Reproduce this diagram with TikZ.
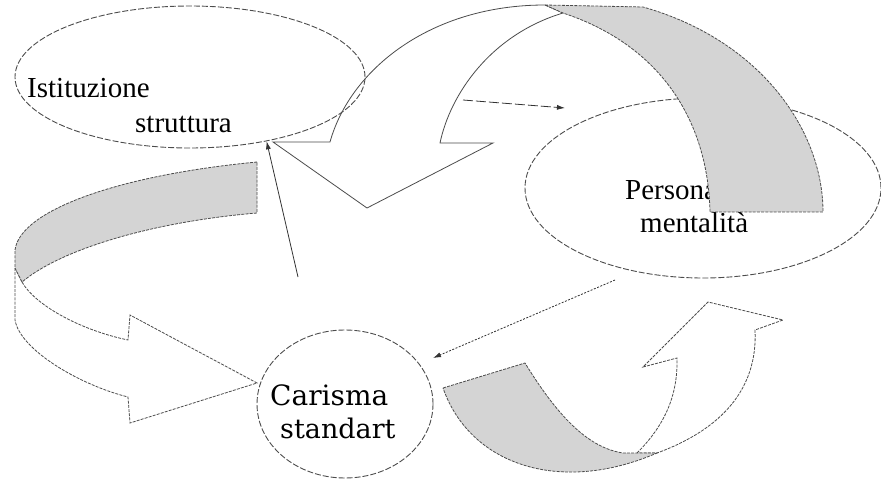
\documentclass[tikz,border=0pt]{standalone}
\usepackage{fontspec}
\setmainfont{Liberation Serif}
\newfontfamily\slabfont{DejaVu Serif}
\usetikzlibrary{shapes.geometric,arrows.meta}
\tikzstyle{oval} = [ellipse, draw=black!70, line width=0.9pt, dash pattern=on 6pt off 2pt, inner sep=0pt]
\tikzstyle{word} = [anchor=base west, inner sep=0pt, font=\fontsize{29}{30}\selectfont]
\tikzstyle{face} = [fill=white, draw=black!70, line width=0.8pt]
\tikzstyle{band} = [fill=black!17, draw=black!70, line width=0.8pt, dash pattern=on 3pt off 1.2pt]
\tikzstyle{link} = [draw=black!80, line width=0.8pt, -{Latex[length=8pt,width=5pt]}]

\begin{document}
\begin{tikzpicture}[x=1pt, y=-1pt]
\useasboundingbox (0,0) rectangle (881,481);

% Personalita
\node[oval, minimum width=356pt, minimum height=180pt] (pers) at (703,188) {};
\node[word] (persA) at (625,200) {Personalità};
\node[word] (persB) at (640,233) {mentalità};

% left arrow
\draw[face, dash pattern=on 3pt off 1.2pt] (15,268) -- (15,320) .. controls (20,350) and (80,385) .. (128,397)
  -- (130,423) -- (257,383) -- (130,315) -- (128,340)
  .. controls (80,330) and (35,305) .. (22,282) -- cycle;
\draw[band] (257,162) .. controls (120,175) and (20,210) .. (15,250) -- (15,268) -- (22,282)
  .. controls (60,250) and (150,222) .. (257,213) -- cycle;

% top arrow
\draw[face] (545,5) .. controls (430,5) and (350,70) .. (330,142)
  -- (273,142) -- (367,208) -- (493,143) -- (440,143)
  .. controls (450,95) and (490,35) .. (563,13) -- cycle;
\draw[band] (545,5) -- (643,7) .. controls (760,40) and (823,130) .. (823,212)
  -- (710,212) .. controls (708,120) and (660,45) .. (563,13) -- cycle;

% bottom right arrow
\draw[face, dash pattern=on 3pt off 1.2pt] (637,453) .. controls (665,425) and (678,395) .. (677,358)
  -- (643,367) -- (708,302) -- (783,320) -- (755,330)
  .. controls (758,390) and (720,430) .. (657,453) -- cycle;
\draw[band] (443,388) -- (525,363) .. controls (560,420) and (590,448) .. (623,453)
  -- (657,453) .. controls (560,495) and (470,465) .. (443,388) -- cycle;

% Istituzione
\node[oval, minimum width=350pt, minimum height=142pt] (ist) at (190,77) {};
\node[word] (istA) at (27,98) {Istituzione};
\node[word] (istB) at (135,133) {struttura};

% Carisma
\node[oval, minimum width=176pt, minimum height=148pt] (car) at (345,404) {};
\node[word, font=\slabfont\fontsize{28}{30}\selectfont] (carA) at (270,405) {Carisma};
\node[word, font=\slabfont\fontsize{27}{30}\selectfont] (carB) at (280,438) {standart};

% connectors
\coordinate (src) at (298,277);
\coordinate (dA) at (463,100);
\coordinate (dB) at (565,108);
\coordinate (pOut) at (615,280);
\coordinate (cIn) at (433,358);
\draw[link] (src) -- (ist.320);
\draw[link, dash pattern=on 10pt off 3pt] (dA) -- (dB);
\draw[link, dash pattern=on 2pt off 1.5pt] (pOut) -- (cIn);

\end{tikzpicture}
\end{document}
